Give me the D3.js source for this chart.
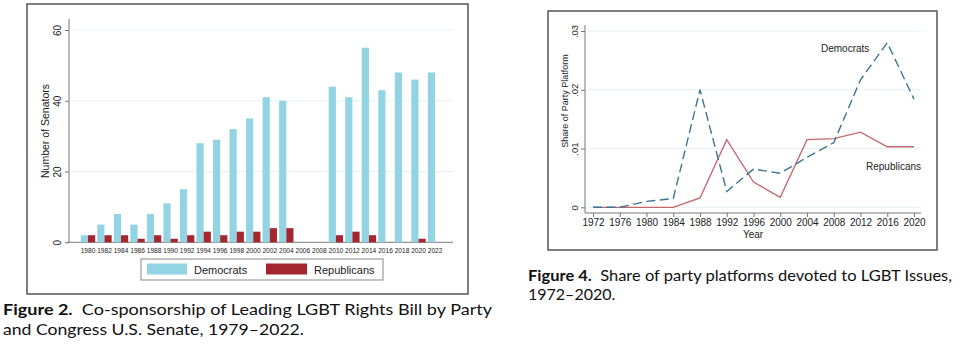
<html>
<head>
<meta charset="utf-8">
<title>LGBT figures</title>
<style>
    body { margin:0; background:#fff; }
    .frame { fill:none; stroke:#555; stroke-width:1.5px; }
    .grid { stroke:#e6f0f2; stroke-width:1px; }
    .axis { stroke:#777; stroke-width:1px; fill:none; }
    .tick text, .lab { font-family:"Liberation Sans", Arial, sans-serif; fill:#222; }
    .cap { font-family:Lato, "Open Sans", sans-serif; fill:#111; font-size:16px; }
    .cap .b { font-weight:bold; }
</style>
</head>
<body>
<div id="chart"></div>
<script src="https://cdnjs.cloudflare.com/ajax/libs/d3/7.8.5/d3.min.js"></script>
<script>
    // figure 2: senate co-sponsors
    var years2 = ["1980","1982","1984","1986","1988","1990","1992","1994","1996","1998","2000",
        "2002","2004","2006","2008","2010","2012","2014","2016","2018","2020","2022"];
    var demSen = [2,5,8,5,8,11,15,28,29,32,35,41,40,0,0,44,41,55,43,48,46,48];
    var repSen = [2,2,2,1,2,1,2,3,2,3,3,4,4,0,0,2,3,2,0,0,1,0];
    var yTicks2 = [0,20,40,60];

    // figure 4: platform share
    var years4 = [1972,1976,1980,1984,1988,1992,1996,2000,2004,2008,2012,2016,2020];
    var demShare = [0,0,0.001,0.0015,0.020,0.0027,0.0065,0.0058,0.0085,0.011,0.0217,0.028,0.0184];
    var repShare = [0,0,0,0,0.0016,0.0115,0.0043,0.0017,0.0115,0.0117,0.0128,0.0103,0.0103];
    var yTicks4 = [0,0.01,0.02,0.03];

    var svg = d3.select("#chart").append("svg").attr("width",962).attr("height",363);

    // ---------- left panel ----------
    var g1 = svg.append("g");
    g1.append("rect").attr("class","frame").attr("x",27).attr("y",4).attr("width",441).attr("height",290);

    var x2 = d3.scaleBand().domain(years2).range([79.7,443.3]);
    var xs = d3.scaleBand().domain(["dem","rep"]).range([0,x2.bandwidth()]).paddingOuter(0.15);
    var y2 = d3.scaleLinear().domain([0,60]).range([242.3,30]);

    g1.selectAll(".grid").data(yTicks2.slice(1)).enter().append("line").attr("class","grid")
        .attr("x1",72).attr("x2",453).attr("y1",d=>y2(d)).attr("y2",d=>y2(d));

    var yAx2 = g1.append("g").attr("transform","translate(69,0)")
        .call(d3.axisLeft(y2).tickValues(yTicks2).tickSize(4).tickPadding(0).tickFormat(d3.format("d")));
    yAx2.select(".domain").remove();
    yAx2.selectAll(".tick line").attr("stroke","#777");
    yAx2.selectAll(".tick text").attr("font-size",10).attr("text-anchor","middle")
        .attr("x",0).attr("transform","translate(-12,0) rotate(-90)").attr("dy","0.35em");
    g1.append("line").attr("class","axis").attr("x1",69).attr("x2",69).attr("y1",19).attr("y2",242.3);
    g1.append("line").attr("class","axis").attr("x1",67).attr("x2",453).attr("y1",242.3).attr("y2",242.3);

    g1.append("text").attr("class","lab").attr("font-size",10.5).attr("text-anchor","middle")
        .attr("transform","translate(49,131) rotate(-90)").text("Number of Senators");

    var grp = g1.selectAll(".yr").data(years2).enter().append("g")
        .attr("transform",d=>"translate("+x2(d)+",0)");
    grp.append("rect").attr("fill","#92d4e3")
        .attr("x",xs("dem")).attr("width",xs.bandwidth())
        .attr("y",(d,i)=>y2(demSen[i])).attr("height",(d,i)=>y2(0)-y2(demSen[i]));
    grp.append("rect").attr("fill","#a4262f")
        .attr("x",xs("rep")).attr("width",xs.bandwidth())
        .attr("y",(d,i)=>y2(repSen[i])).attr("height",(d,i)=>y2(0)-y2(repSen[i]));

    var xAx2 = g1.append("g").attr("transform","translate(0,242.3)")
        .call(d3.axisBottom(x2).tickSize(0).tickPadding(6));
    xAx2.select(".domain").remove();
    xAx2.selectAll(".tick text").attr("font-size",6.6).attr("fill","#333");

    // legend
    var leg = g1.append("g");
    leg.append("rect").attr("x",141).attr("y",259).attr("width",242).attr("height",21)
        .attr("fill","#fff").attr("stroke","#888");
    leg.append("rect").attr("x",147).attr("y",263.5).attr("width",40).attr("height",11).attr("fill","#92d4e3");
    leg.append("text").attr("class","lab").attr("x",194).attr("y",273.5).attr("font-size",11).text("Democrats");
    leg.append("rect").attr("x",266).attr("y",263.5).attr("width",41).attr("height",11).attr("fill","#a4262f");
    leg.append("text").attr("class","lab").attr("x",314).attr("y",273.5).attr("font-size",11).text("Republicans");

    var c1 = svg.append("text").attr("class","cap").attr("x",3).attr("y",315)
        .attr("textLength",489).attr("lengthAdjust","spacingAndGlyphs");
    c1.append("tspan").attr("class","b").text("Figure 2.");
    c1.append("tspan").text("\u00a0 Co-sponsorship of Leading LGBT Rights Bill by Party");
    svg.append("text").attr("class","cap").attr("x",3).attr("y",335)
        .attr("textLength",301).attr("lengthAdjust","spacingAndGlyphs")
        .text("and Congress U.S. Senate, 1979\u20132022.");

    // ---------- right panel ----------
    var g2 = svg.append("g");
    g2.append("rect").attr("class","frame").attr("x",548).attr("y",11).attr("width",389).attr("height",239);

    var x4 = d3.scaleLinear().domain([1972,2020]).range([593,914]);
    var y4 = d3.scaleLinear().domain([0,0.03]).range([207.3,31]);

    g2.selectAll(".grid").data(yTicks4).enter().append("line").attr("class","grid")
        .attr("x1",588).attr("x2",921).attr("y1",d=>y4(d)).attr("y2",d=>y4(d));

    var yAx4 = g2.append("g").attr("transform","translate(585,0)")
        .call(d3.axisLeft(y4).tickValues(yTicks4).tickSize(4).tickPadding(0)
            .tickFormat(d=>d===0 ? "0" : d3.format(".2f")(d).replace(/^0/,"")));
    yAx4.select(".domain").remove();
    yAx4.selectAll(".tick line").attr("stroke","#777");
    yAx4.selectAll(".tick text").attr("font-size",9.5).attr("text-anchor","middle")
        .attr("x",0).attr("transform","translate(-10,0) rotate(-90)").attr("dy","0.35em");
    g2.append("line").attr("class","axis").attr("x1",585).attr("x2",585).attr("y1",25).attr("y2",213);
    g2.append("line").attr("class","axis").attr("x1",585).attr("x2",921).attr("y1",213).attr("y2",213);

    var xAx4 = g2.append("g").attr("transform","translate(0,213)")
        .call(d3.axisBottom(x4).tickValues(years4).tickSize(4).tickPadding(2).tickFormat(d3.format("d")));
    xAx4.select(".domain").remove();
    xAx4.selectAll(".tick line").attr("stroke","#777");
    xAx4.selectAll(".tick text").attr("font-size",10);

    g2.append("text").attr("class","lab").attr("font-size",10).attr("text-anchor","middle")
        .attr("x",753).attr("y",238).text("Year");
    g2.append("text").attr("class","lab").attr("font-size",9).attr("text-anchor","middle")
        .attr("transform","translate(568,101) rotate(-90)").text("Share of Party Platform");

    var line = d3.line().x((d,i)=>x4(years4[i])).y(d=>y4(d));
    g2.append("path").datum(repShare).attr("d",line).attr("fill","none")
        .attr("stroke","#c4646c").attr("stroke-width",1.3);
    g2.append("path").datum(demShare).attr("d",line).attr("fill","none")
        .attr("stroke","#3d7594").attr("stroke-width",1.4).attr("stroke-dasharray","9,4.5");

    g2.append("text").attr("class","lab").attr("font-size",10).attr("x",821).attr("y",51.5).text("Democrats");
    g2.append("text").attr("class","lab").attr("font-size",10).attr("x",866).attr("y",169.5).text("Republicans");

    var c2 = svg.append("text").attr("class","cap").attr("x",528).attr("y",281)
        .attr("textLength",424).attr("lengthAdjust","spacingAndGlyphs");
    c2.append("tspan").attr("class","b").text("Figure 4.");
    c2.append("tspan").text("\u00a0 Share of party platforms devoted to LGBT Issues,");
    svg.append("text").attr("class","cap").attr("x",528).attr("y",300).text("1972\u20132020.");
</script>
</body>
</html>
